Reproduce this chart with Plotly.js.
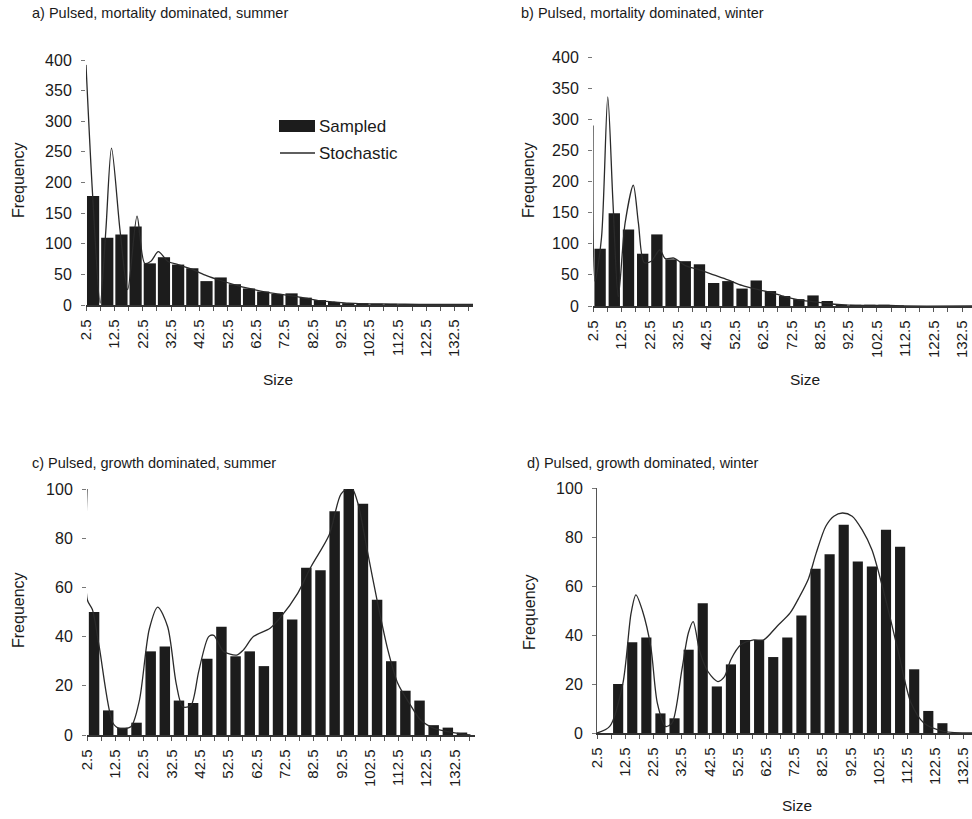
<!DOCTYPE html>
<html>
<head>
<meta charset="utf-8">
<script src="https://cdn.plot.ly/plotly-3.0.1.min.js"></script>
<style>html,body{margin:0;padding:0;background:#fff;}#chart{width:972px;height:819px;}</style>
</head>
<body>
<div id="chart"></div>
<script>
// ---- data ----
const binCenters = [5,10,15,20,25,30,35,40,45,50,55,60,65,70,75,80,85,90,95,100,105,110,115,120,125,130,135];

const sampledA = [178,110,115,128,68,78,66,60,39,45,34,27,22,18,19,12,8,5,3,3,2,2,1,1,1,1,1];
const sampledB = [92,149,123,84,115,75,72,67,37,40,28,41,24,16,11,17,8,2,2,2,2,1,0,0,0,0,0];
const sampledC = [50,10,3,5,34,36,14,13,31,44,32,34,28,50,47,68,67,91,101,94,55,30,18,14,4,3,1];
const sampledD = [0,20,37,39,8,6,34,53,19,28,38,38,31,39,48,67,73,85,70,68,83,76,26,9,4,0,0];

const stochAx = [2.5,4.8,7.5,9.5,11.5,14.5,17.2,20.5,23.2,25.5,28,31.4,35,40,45,50,55,60,65,70,75,80,85,90,95,100,110,120,130,139];
const stochAy = [392,182,3,122,256,122,25,145,68,72,87,71,66,58,48,40,33,27,22,18,15,11,7,5,3,2,1.5,1,1,1];

const stochBx = [2.5,3.2,5.5,7.7,9.5,11.4,13.8,16.7,18.5,20.5,23,26,28,31,35,40,45,50,55,60,65,70,75,80,85,90,95,100,107,112,136];
const stochBy = [290,40,110,336,170,15,133,194,133,70,72,90,76,77,65,58,50,42,33,27,22,15,10,7,4,2,1,1,1,0,0];

const stochCx = [2.5,2.6,4.4,6.8,11.6,13.9,18,21,24.5,27.5,31,34,36.3,39.2,42,45.5,47.3,50.7,55.4,57.8,61.3,67.2,71,77,81.7,88.1,92.3,95.8,98.2,101.7,105.2,108.8,112.3,116.4,120.5,125.2,133.5,138];
const stochCy = [100,55,51,36,5,2.7,3.4,14,43,52,44,21,11.5,12,26,40,40.5,34,32.5,34.6,40,43.4,48,57.7,68.5,81.4,98,100.8,94.3,74,53.6,34.6,21,12.9,6,2.7,0.7,0];

const stochDx = [2.5,7,11.7,14.6,16.3,18.6,21.6,23.9,26.8,29.1,32.6,34.9,36.6,39,41.9,45.4,47.7,50,53.5,58.1,61.6,66.3,71,74.4,77.5,80.2,83.6,86.5,89.5,93,96.5,100,104,109.2,113.9,118.5,125.5,135.5];
const stochDy = [0,2.7,20.4,49,56.4,50,35,12.2,2.7,4,25.8,40.8,45.5,33,25,21,23,30,36,38,38,43.5,49,55.8,63,73.3,84.3,88.5,89.8,88.5,83,74.8,58.5,34,12.2,4,0.7,0];

const xTickVals = [2.5,7.5,12.5,17.5,22.5,27.5,32.5,37.5,42.5,47.5,52.5,57.5,62.5,67.5,72.5,77.5,82.5,87.5,92.5,97.5,102.5,107.5,112.5,117.5,122.5,127.5,132.5,137.5];
const xTickText = ['2.5','','12.5','','22.5','','32.5','','42.5','','52.5','','62.5','','72.5','','82.5','','92.5','','102.5','','112.5','','122.5','','132.5',''];
const yTicksTop = [0,50,100,150,200,250,300,350,400];
const yTicksBottom = [0,20,40,60,80,100];

const panelTitles = ['a) Pulsed, mortality dominated, summer','b) Pulsed, mortality dominated, winter','c) Pulsed, growth dominated, summer','d) Pulsed, growth dominated, winter'];
const seriesNames = ['Sampled','Stochastic'];

// ---- styles ----
const FONT = 'Liberation Sans, Arial, sans-serif';
const TXT = '#1a1a1a';
const BAR = '#1c1c1c';
const LINE = '#2a2a2a';

function bar(y, xa, ya, w){
  return {type:'bar', x:binCenters, y:y, xaxis:xa, yaxis:ya, width:w, name:seriesNames[0],
    marker:{color:BAR, line:{width:0}}, showlegend:false, hoverinfo:'skip'};
}
function line(x, y, xa, ya){
  return {type:'scatter', mode:'lines', x:x, y:y, xaxis:xa, yaxis:ya, name:seriesNames[1],
    line:{color:LINE, width:1.3, shape:'spline', smoothing:0.8}, showlegend:false, hoverinfo:'skip'};
}

const data = [
  bar(sampledA,'x','y',4.3), line(stochAx, stochAy,'x','y'),
  bar(sampledB,'x2','y2',4.0), line(stochBx, stochBy,'x2','y2'),
  bar(sampledC,'x3','y3',3.7), line(stochCx, stochCy,'x3','y3'),
  bar(sampledD,'x4','y4',3.6), line(stochDx, stochDy,'x4','y4')
];

function xax(domain, range, anchor){
  return {domain:domain, range:range, anchor:anchor, showgrid:false, zeroline:false,
    showline:true, linecolor:'#333', linewidth:1.5, ticks:'outside', ticklen:4, tickcolor:'#555',
    tickmode:'array', tickvals:xTickVals, ticktext:xTickText, tickangle:-90,
    ticklabeloverflow:'allow', ticklabelstandoff:3, tickfont:{family:FONT, size:15, color:TXT}};
}
function yax(domain, range, anchor, vals, showline){
  return {domain:domain, range:range, anchor:anchor, showgrid:false, zeroline:false,
    showline:showline, linecolor:'#555', linewidth:1, ticks:'outside', ticklen:4, tickcolor:'#777',
    tickmode:'array', tickvals:vals, ticktext:vals.map(String),
    ticklabelstandoff:6, tickfont:{family:FONT, size:16, color:TXT}};
}

const H = 819, W = 972;
const px = v => v / W;
const py = v => 1 - v / H;

const ann = [];
const titlePos = [[30,13],[519,13],[30,463],[525,463]];
panelTitles.forEach((t,i)=>ann.push({text:t, xref:'paper', yref:'paper', x:px(titlePos[i][0]), y:py(titlePos[i][1]),
  xanchor:'left', yanchor:'middle', showarrow:false, font:{family:FONT, size:14.5, color:TXT}}));
[[18,180],[528,180],[18,610],[529,612]].forEach(p=>ann.push({text:'Frequency', xref:'paper', yref:'paper',
  x:px(p[0]), y:py(p[1]), xanchor:'center', yanchor:'middle', textangle:-90, showarrow:false,
  font:{family:FONT, size:16, color:TXT}}));
[[278,379],[805,379],[797,805]].forEach(p=>ann.push({text:'Size', xref:'paper', yref:'paper',
  x:px(p[0]), y:py(p[1]), xanchor:'center', yanchor:'middle', showarrow:false,
  font:{family:FONT, size:15.5, color:TXT}}));
// legend text
ann.push({text:seriesNames[0], xref:'paper', yref:'paper', x:px(317), y:py(126), xanchor:'left', yanchor:'middle',
  showarrow:false, font:{family:FONT, size:17, color:TXT}});
ann.push({text:seriesNames[1], xref:'paper', yref:'paper', x:px(317), y:py(153), xanchor:'left', yanchor:'middle',
  showarrow:false, font:{family:FONT, size:17, color:TXT}});

const shapes = [
  {type:'rect', xref:'paper', yref:'paper', x0:px(279), x1:px(315), y0:py(132), y1:py(120), fillcolor:BAR, line:{width:0}},
  {type:'line', xref:'paper', yref:'paper', x0:px(280), x1:px(315), y0:py(153), y1:py(153), line:{color:LINE, width:1.3}}
];

const layout = {
  width:W, height:H, margin:{l:0,r:0,t:0,b:0}, paper_bgcolor:'#fff', plot_bgcolor:'rgba(0,0,0,0)',
  showlegend:false, bargap:0.15,
  xaxis: xax([px(86), px(473)], [2.5, 139], 'y'),
  yaxis: yax([py(305), py(60)], [0, 400], 'x', yTicksTop, false),
  xaxis2: xax([px(593), 1], [2.5, 136], 'y2'),
  yaxis2: yax([py(306), py(57)], [0, 400], 'x2', yTicksTop, false),
  xaxis3: xax([px(87), px(475)], [2.5, 139.6], 'y3'),
  yaxis3: yax([py(735), py(489)], [0, 100], 'x3', yTicksBottom, false),
  xaxis4: xax([px(597), 1], [2.5, 135.5], 'y4'),
  yaxis4: yax([py(733), py(488)], [0, 100], 'x4', yTicksBottom, true),
  annotations: ann, shapes: shapes
};

Plotly.newPlot('chart', data, layout, {staticPlot:true, displayModeBar:false});
</script>
</body>
</html>
